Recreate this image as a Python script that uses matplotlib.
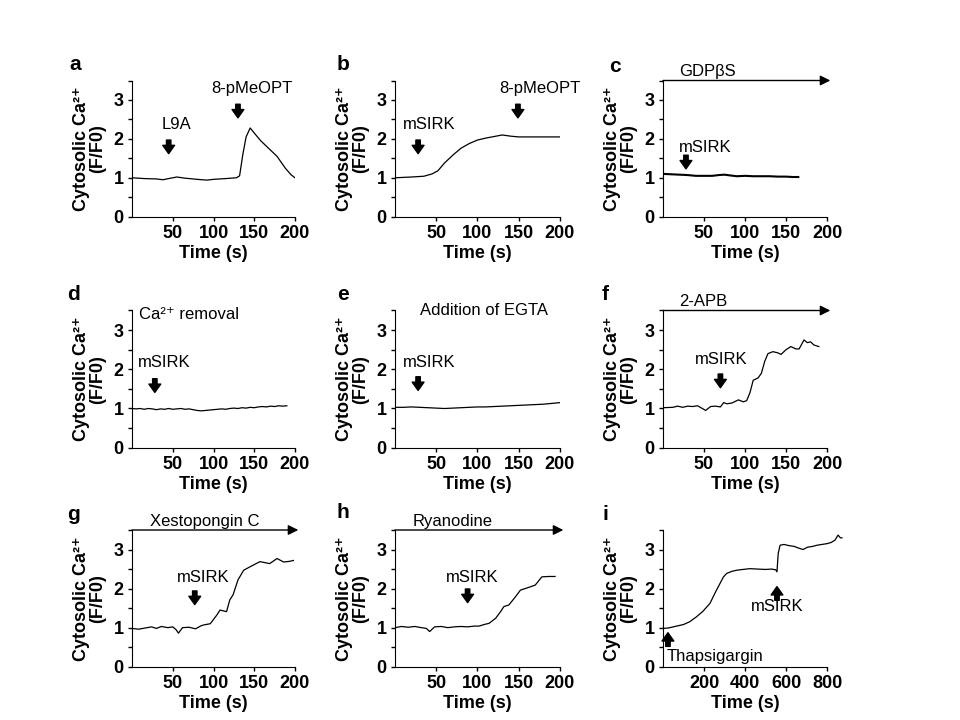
import matplotlib.pyplot as plt

plt.rcParams['font.family'] = ['Liberation Sans', 'DejaVu Sans']
plt.rcParams['font.weight'] = 'bold'
plt.rcParams['axes.labelweight'] = 'bold'

# traces (time in s, F/F0)
t_a = [0, 15, 30, 38, 45, 55, 65, 80, 92, 100, 115, 128, 132, 136, 140, 145, 150, 158, 168, 178, 188, 195, 200]
y_a = [1.0, 0.98, 0.97, 0.95, 0.98, 1.02, 0.99, 0.96, 0.94, 0.96, 0.98, 1.0, 1.05, 1.6, 2.05, 2.28, 2.15, 1.95, 1.75, 1.55, 1.25, 1.08, 1.0]

t_b = [0, 20, 35, 45, 52, 60, 70, 80, 90, 100, 110, 120, 130, 140, 150, 175, 200]
y_b = [1.0, 1.02, 1.04, 1.1, 1.18, 1.38, 1.58, 1.76, 1.88, 1.97, 2.02, 2.06, 2.1, 2.07, 2.05, 2.05, 2.05]

t_c = [0, 10, 20, 30, 40, 50, 60, 68, 75, 82, 90, 100, 110, 120, 130, 140, 150, 158, 165]
y_c = [1.1, 1.09, 1.08, 1.07, 1.05, 1.05, 1.05, 1.07, 1.08, 1.06, 1.04, 1.05, 1.04, 1.04, 1.04, 1.03, 1.03, 1.02, 1.02]

t_d = [0, 5, 10, 15, 20, 25, 30, 35, 40, 45, 50, 55, 60, 65, 70, 75, 80, 85, 90, 95,
       100, 105, 110, 115, 120, 125, 130, 135, 140, 145, 150, 155, 160, 165, 170, 175, 180, 185, 190]
y_d = [1.0, 0.99, 1.0, 0.98, 1.0, 0.99, 0.97, 0.99, 0.98, 1.0, 0.98, 0.99, 1.0, 0.98, 0.99, 0.97, 0.95, 0.94, 0.95, 0.96,
       0.97, 0.98, 0.99, 0.98, 1.0, 1.01, 1.0, 1.02, 1.01, 1.03, 1.02, 1.04, 1.05, 1.04, 1.06, 1.05, 1.07, 1.06, 1.07]

t_e = [0, 10, 20, 30, 40, 50, 60, 70, 80, 90, 100, 110, 120, 130, 140, 150, 160, 170, 180, 190, 200]
y_e = [1.03, 1.03, 1.04, 1.03, 1.02, 1.01, 1.0, 1.01, 1.02, 1.03, 1.04, 1.04, 1.05, 1.06, 1.07, 1.08, 1.09, 1.1, 1.11, 1.13, 1.15]

t_f = [0, 12, 18, 24, 30, 36, 42, 48, 52, 58, 64, 70, 74, 78, 84, 92, 98, 102, 106, 110,
       116, 120, 124, 128, 134, 140, 144, 150, 156, 162, 166, 172, 176, 180, 184, 190]
y_f = [1.02, 1.03, 1.06, 1.03, 1.06, 1.05, 1.07, 1.0, 0.95, 1.05, 1.06, 1.04, 1.15, 1.12, 1.14, 1.22, 1.17, 1.2, 1.4, 1.72,
       1.78, 1.9, 2.2, 2.4, 2.45, 2.42, 2.38, 2.5, 2.58, 2.52, 2.52, 2.75, 2.68, 2.7, 2.62, 2.58]

t_g = [0, 8, 16, 24, 30, 36, 44, 50, 54, 57, 62, 70, 78, 84, 88, 96, 104, 108, 116, 120,
       124, 130, 137, 145, 157, 169, 178, 186, 194, 198]
y_g = [0.98, 0.96, 0.99, 1.02, 0.98, 1.03, 1.0, 1.02, 0.95, 0.86, 1.0, 1.01, 0.97, 1.04, 1.07, 1.1, 1.32, 1.45, 1.41, 1.71,
       1.84, 2.22, 2.47, 2.56, 2.69, 2.64, 2.77, 2.68, 2.7, 2.72]

t_h = [0, 8, 16, 24, 32, 38, 42, 48, 56, 64, 72, 80, 88, 96, 102, 108, 114, 122, 128, 132,
       138, 146, 152, 162, 170, 178, 186, 194]
y_h = [1.0, 1.03, 1.01, 1.03, 1.0, 0.98, 0.9, 1.02, 1.03, 1.0, 1.02, 1.03, 1.02, 1.04, 1.04, 1.08, 1.11, 1.24, 1.41, 1.54,
       1.58, 1.79, 1.96, 2.03, 2.09, 2.3, 2.31, 2.31]

t_i = [0, 25, 50, 75, 100, 130, 164, 195, 229, 255, 278, 295, 311, 335, 359, 390, 424, 460, 500, 530,
       550, 556, 562, 571, 590, 615, 640, 660, 683, 705, 730, 751, 775, 800, 820, 839, 854, 865, 873]
y_i = [0.98, 0.99, 1.02, 1.05, 1.08, 1.15, 1.28, 1.42, 1.62, 1.9, 2.13, 2.3, 2.39, 2.44, 2.47, 2.49, 2.51, 2.5, 2.49, 2.5,
       2.48, 2.43, 2.9, 3.11, 3.13, 3.1, 3.08, 3.04, 3.0, 3.06, 3.08, 3.11, 3.13, 3.15, 3.18, 3.24, 3.37, 3.3, 3.3]

letters = ['a', 'b', 'c', 'd', 'e', 'f', 'g', 'h', 'i']

fig = plt.figure(figsize=(9.6, 7.2), dpi=100)

# panel boxes in pixels: (left, right) and (top, bottom)
cols = [(132, 295), (395, 560), (663, 827)]
rows = [(80.5, 216.7), (310.5, 447.7), (530, 666.7)]
letter_pos = [(75, 65), (343, 65), (615, 67), (73, 295), (343, 295), (605, 295), (73, 515), (343, 513), (605, 515)]


def make_axes(r, c, xmax=200, xticks=(50, 100, 150, 200)):
    left, right = cols[c]
    top, bottom = rows[r]
    ax = fig.add_axes([left / 960, 1 - bottom / 720, (right - left) / 960, (bottom - top) / 720])
    ax.set_xlim(0, xmax)
    ax.set_ylim(0, 3.5)
    ax.spines['top'].set_visible(False)
    ax.spines['right'].set_visible(False)
    ax.set_xticks(list(xticks))
    ax.set_yticks([0, 1, 2, 3])
    ax.set_yticks([0.5, 1.5, 2.5, 3.5], minor=True)
    ax.tick_params(which='both', direction='out', length=3, width=1, labelsize=13, pad=3)
    ax.set_xlabel('Time (s)', fontsize=13, labelpad=2)
    ax.set_ylabel('Cytosolic Ca\u00b2\u207a\n(F/F0)', fontsize=13, labelpad=5, linespacing=1.0)
    n = r * 3 + c
    fig.text(letter_pos[n][0] / 960, 1 - letter_pos[n][1] / 720, letters[n],
             fontsize=15, ha='center', va='center')
    return ax


def mark(ax, x, tip, label, lx, ly, up=False, ha='center'):
    start = tip - 0.35 if up else tip + 0.35
    ax.annotate('', xy=(x, tip), xytext=(x, start), annotation_clip=False,
                arrowprops=dict(arrowstyle='simple,head_length=0.6,head_width=0.85,tail_width=0.32',
                                color='black', shrinkA=0, shrinkB=0, mutation_scale=10))
    ax.text(lx, ly, label, ha=ha, va='center', fontsize=12, fontweight='normal')


def bar(ax, label, lx, xend=204):
    ax.annotate('', xy=(xend, 3.5), xytext=(0, 3.5), annotation_clip=False,
                arrowprops=dict(arrowstyle='-|>', color='black', lw=1, shrinkA=0, shrinkB=0, mutation_scale=15))
    ax.text(lx, 3.72, label, ha='left', va='center', fontsize=12, fontweight='normal')


ax = make_axes(0, 0)
ax.plot(t_a, y_a, color='black', lw=0.9)
mark(ax, 45, 1.62, 'L9A', 55, 2.36)
mark(ax, 130, 2.54, '8-pMeOPT', 147, 3.3)

ax = make_axes(0, 1)
ax.plot(t_b, y_b, color='black', lw=0.9)
mark(ax, 28, 1.62, 'mSIRK', 42, 2.36)
mark(ax, 149, 2.54, '8-pMeOPT', 176, 3.3)

ax = make_axes(0, 2)
ax.plot(t_c, y_c, color='black', lw=1.5)
mark(ax, 28, 1.23, 'mSIRK', 51, 1.77)
bar(ax, 'GDP\u03b2S', 20)

ax = make_axes(1, 0)
ax.plot(t_d, y_d, color='black', lw=0.9)
mark(ax, 28, 1.41, 'mSIRK', 40, 2.17)
ax.text(8, 3.4, 'Ca\u00b2\u207a removal', ha='left', va='center', fontsize=12, fontweight='normal')

ax = make_axes(1, 1)
ax.plot(t_e, y_e, color='black', lw=0.9)
mark(ax, 28, 1.46, 'mSIRK', 42, 2.17)
ax.text(30, 3.49, 'Addition of EGTA', ha='left', va='center', fontsize=12, fontweight='normal')

ax = make_axes(1, 2)
ax.plot(t_f, y_f, color='black', lw=0.9)
mark(ax, 70, 1.53, 'mSIRK', 71, 2.25)
bar(ax, '2-APB', 20)

ax = make_axes(2, 0)
ax.plot(t_g, y_g, color='black', lw=0.9)
mark(ax, 77, 1.59, 'mSIRK', 88, 2.28)
bar(ax, 'Xestopongin C', 22)

ax = make_axes(2, 1)
ax.plot(t_h, y_h, color='black', lw=0.9)
mark(ax, 88, 1.64, 'mSIRK', 94, 2.28)
bar(ax, 'Ryanodine', 21)

ax = make_axes(2, 2, xmax=800, xticks=(200, 400, 600, 800))
ax.plot(t_i, y_i, color='black', lw=0.9, clip_on=False)
mark(ax, 24, 0.87, 'Thapsigargin', 20, 0.26, up=True, ha='left')
mark(ax, 556, 2.05, 'mSIRK', 556, 1.53, up=True)

fig.savefig('out.png', dpi=100)
